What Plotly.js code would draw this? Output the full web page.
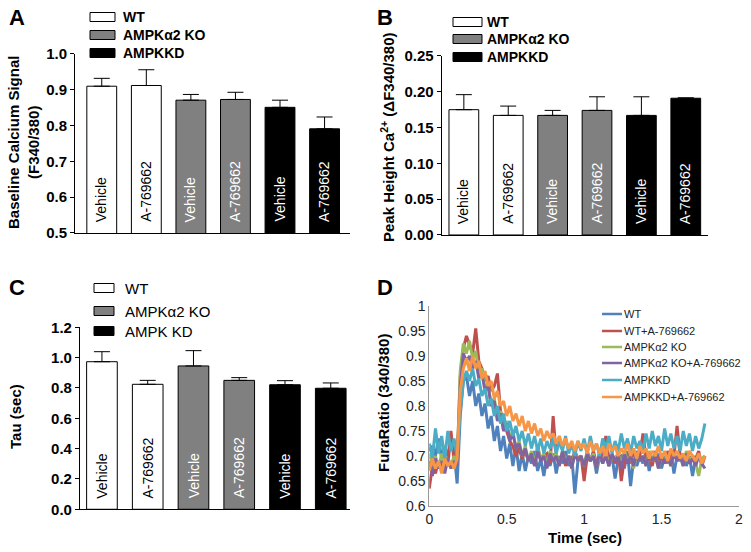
<!DOCTYPE html>
<html>
<head>
<meta charset="utf-8">
<script src="https://cdn.plot.ly/plotly-3.0.1.min.js"></script>
<style>html,body{margin:0;padding:0;background:#fff;}#chart{width:751px;height:552px;}</style>
</head>
<body>
<div id="chart"></div>
<script>
// ---------- DATA ----------
const barCategories = ['WT Vehicle', 'WT A-769662', 'KO Vehicle', 'KO A-769662', 'KD Vehicle', 'KD A-769662'];
const barLabels = ['Vehicle', 'A-769662', 'Vehicle', 'A-769662', 'Vehicle', 'A-769662'];
const barColors = ['#ffffff', '#ffffff', '#808080', '#808080', '#000000', '#000000'];
const barTextColors = ['#000000', '#000000', '#ffffff', '#ffffff', '#ffffff', '#ffffff'];

const baselineMean = [0.910, 0.912, 0.871, 0.873, 0.851, 0.791];
const baselineErr  = [0.022, 0.044, 0.016, 0.020, 0.020, 0.033];
const peakMean = [0.175, 0.167, 0.167, 0.174, 0.167, 0.191];
const peakErr  = [0.021, 0.013, 0.007, 0.019, 0.026, 0.0005];
const tauMean = [0.973, 0.824, 0.945, 0.850, 0.821, 0.798];
const tauErr  = [0.066, 0.026, 0.101, 0.018, 0.027, 0.035];

const legendAB = ['WT', 'AMPKα2 KO', 'AMPKKD'];
const legendC = ['WT', 'AMPKα2 KO', 'AMPK KD'];
const legendColors = ['#ffffff', '#808080', '#000000'];

const timeSec = [0,0.02,0.04,0.06,0.08,0.1,0.12,0.14,0.16,0.18,
  0.2,0.22,0.24,0.26,0.28,0.3,0.32,0.34,0.36,0.38,
  0.4,0.42,0.44,0.46,0.48,0.5,0.52,0.54,0.56,0.58,
  0.6,0.62,0.64,0.66,0.68,0.7,0.72,0.74,0.76,0.78,
  0.8,0.82,0.84,0.86,0.88,0.9,0.92,0.94,0.96,0.98,
  1,1.02,1.04,1.06,1.08,1.1,1.12,1.14,1.16,1.18,
  1.2,1.22,1.24,1.26,1.28,1.3,1.32,1.34,1.36,1.38,
  1.4,1.42,1.44,1.46,1.48,1.5,1.52,1.54,1.56,1.58,
  1.6,1.62,1.64,1.66,1.68,1.7,1.72,1.74,1.76,1.78];

const traceNames = ['WT', 'WT+A-769662', 'AMPKα2 KO', 'AMPKα2 KO+A-769662', 'AMPKKD', 'AMPKKD+A-769662'];
const traceColors = ['#4F81BD', '#C0504D', '#9BBB59', '#8064A2', '#4BACC6', '#F79646'];

const furaWT = [0.71,0.72,0.70,0.735,0.695,0.72,0.70,0.73,0.71,0.645,
  0.78,0.85,0.86,0.82,0.85,0.80,0.825,0.78,0.805,0.755,
  0.78,0.73,0.76,0.71,0.74,0.695,0.725,0.68,0.72,0.67,
  0.705,0.67,0.70,0.685,0.71,0.67,0.695,0.66,0.70,0.68,
  0.705,0.665,0.70,0.685,0.71,0.68,0.70,0.625,0.69,0.70,
  0.675,0.71,0.69,0.70,0.665,0.70,0.685,0.71,0.68,0.70,
  0.655,0.695,0.70,0.675,0.71,0.64,0.695,0.68,0.70,0.685,
  0.71,0.67,0.70,0.69,0.705,0.675,0.70,0.685,0.71,0.665,
  0.70,0.69,0.705,0.68,0.70,0.66,0.695,0.70,0.685,0.70];
const furaWTA = [0.635,0.68,0.665,0.69,0.67,0.70,0.68,0.75,0.69,0.685,
  0.86,0.915,0.94,0.92,0.905,0.955,0.89,0.875,0.85,0.86,
  0.83,0.84,0.865,0.79,0.77,0.745,0.73,0.72,0.70,0.715,
  0.695,0.71,0.69,0.705,0.68,0.72,0.69,0.70,0.705,0.685,
  0.78,0.70,0.69,0.705,0.68,0.70,0.69,0.71,0.695,0.70,
  0.65,0.70,0.69,0.71,0.685,0.70,0.69,0.74,0.695,0.70,
  0.685,0.71,0.65,0.695,0.70,0.685,0.71,0.69,0.70,0.745,
  0.695,0.70,0.68,0.71,0.69,0.70,0.685,0.71,0.695,0.70,
  0.76,0.70,0.69,0.705,0.685,0.70,0.695,0.71,0.68,0.70];
const furaKO = [0.705,0.68,0.70,0.675,0.705,0.685,0.695,0.68,0.70,0.685,
  0.87,0.925,0.905,0.93,0.895,0.91,0.865,0.875,0.835,0.845,
  0.80,0.815,0.775,0.79,0.75,0.77,0.735,0.75,0.715,0.73,
  0.70,0.72,0.69,0.71,0.685,0.715,0.695,0.705,0.68,0.71,
  0.695,0.705,0.68,0.71,0.69,0.70,0.675,0.71,0.69,0.70,
  0.68,0.71,0.69,0.705,0.675,0.70,0.69,0.71,0.68,0.70,
  0.695,0.705,0.68,0.71,0.69,0.70,0.675,0.705,0.69,0.70,
  0.68,0.71,0.69,0.70,0.675,0.705,0.69,0.70,0.68,0.705,
  0.69,0.70,0.68,0.71,0.69,0.70,0.685,0.66,0.695,0.70];
const furaKOA = [0.69,0.66,0.695,0.675,0.69,0.665,0.695,0.675,0.69,0.68,
  0.84,0.905,0.89,0.90,0.875,0.89,0.855,0.865,0.83,0.84,
  0.80,0.81,0.77,0.785,0.75,0.765,0.73,0.745,0.715,0.725,
  0.70,0.715,0.69,0.705,0.68,0.71,0.69,0.70,0.675,0.705,
  0.69,0.70,0.68,0.71,0.685,0.70,0.675,0.705,0.69,0.70,
  0.68,0.705,0.69,0.70,0.675,0.71,0.685,0.70,0.68,0.705,
  0.69,0.70,0.675,0.705,0.685,0.70,0.68,0.71,0.69,0.70,
  0.68,0.705,0.69,0.70,0.675,0.705,0.685,0.70,0.68,0.705,
  0.69,0.70,0.68,0.705,0.685,0.695,0.68,0.70,0.685,0.675];
const furaKD = [0.725,0.695,0.755,0.705,0.74,0.695,0.75,0.71,0.735,0.70,
  0.79,0.85,0.87,0.85,0.875,0.84,0.855,0.82,0.835,0.80,
  0.815,0.78,0.80,0.765,0.785,0.75,0.77,0.74,0.76,0.73,
  0.75,0.72,0.745,0.715,0.74,0.71,0.735,0.705,0.73,0.715,
  0.735,0.705,0.73,0.71,0.74,0.705,0.725,0.70,0.73,0.71,
  0.735,0.705,0.74,0.71,0.725,0.70,0.735,0.715,0.74,0.705,
  0.73,0.71,0.745,0.715,0.735,0.705,0.74,0.715,0.73,0.71,
  0.745,0.715,0.75,0.72,0.74,0.71,0.755,0.72,0.745,0.715,
  0.74,0.71,0.75,0.72,0.745,0.71,0.74,0.715,0.735,0.765];
const furaKDA = [0.67,0.695,0.675,0.69,0.665,0.695,0.68,0.69,0.675,0.695,
  0.83,0.875,0.895,0.87,0.90,0.875,0.89,0.855,0.87,0.84,
  0.85,0.815,0.83,0.80,0.81,0.78,0.80,0.77,0.785,0.76,
  0.78,0.75,0.77,0.745,0.765,0.74,0.755,0.73,0.75,0.735,
  0.745,0.725,0.74,0.72,0.735,0.715,0.73,0.71,0.73,0.715,
  0.725,0.705,0.73,0.71,0.725,0.705,0.72,0.70,0.725,0.71,
  0.72,0.70,0.715,0.705,0.725,0.70,0.715,0.695,0.72,0.705,
  0.715,0.695,0.71,0.70,0.72,0.695,0.71,0.69,0.715,0.70,
  0.71,0.695,0.705,0.69,0.71,0.70,0.69,0.705,0.685,0.70];
const furaSeries = [furaWT, furaWTA, furaKO, furaKOA, furaKD, furaKDA];

// ---------- HELPERS ----------
const W = 751, H = 552;
const FONT = 'Liberation Sans, Arial, Helvetica, sans-serif';
const px = v => v / W;
const py = v => 1 - v / H;

function barTrace(xa, ya, mean, err) {
  return {
    type: 'bar', x: barCategories, y: mean, xaxis: xa, yaxis: ya,
    width: 0.67, showlegend: false, hoverinfo: 'skip',
    marker: {color: barColors, line: {color: '#000', width: 1}},
    error_y: {type: 'data', symmetric: false, array: err, arrayminus: err.map(() => 0),
              color: '#000', thickness: 1, width: 8}
  };
}

const data = [
  barTrace('x', 'y', baselineMean, baselineErr),
  barTrace('x2', 'y2', peakMean, peakErr),
  barTrace('x3', 'y3', tauMean, tauErr)
];
furaSeries.forEach((s, i) => {
  data.push({type: 'scatter', mode: 'lines', x: timeSec, y: s, xaxis: 'x4', yaxis: 'y4',
    name: traceNames[i], line: {color: traceColors[i], width: 3}, showlegend: false, hoverinfo: 'skip'});
});

const barX = (dom, range, anchor) => ({domain: dom, range: range, anchor: anchor, type: 'category',
  showticklabels: false, ticks: '', showline: true, linecolor: '#000', linewidth: 1,
  showgrid: false, zeroline: false, fixedrange: true});
const barY = (dom, range, dtick, fmt, anchor) => ({domain: dom, range: range, anchor: anchor,
  dtick: dtick, tick0: 0, tickformat: fmt, ticks: 'outside', ticklen: 4, tickwidth: 1, tickcolor: '#000',
  showline: true, linecolor: '#000', linewidth: 1, showgrid: false, zeroline: false,
  tickfont: {family: FONT, size: 15, color: '#000', weight: 'bold'}, fixedrange: true});

const shapes = [];
const annotations = [];

// panel letters
[['A', 17, 17], ['B', 385, 17], ['C', 17, 287], ['D', 385, 287]].forEach(p => {
  annotations.push({text: p[0], xref: 'paper', yref: 'paper', x: px(p[1]), y: py(p[2]),
    xanchor: 'center', yanchor: 'middle', showarrow: false,
    font: {family: FONT, size: 22, color: '#000', weight: 'bold'}});
});

// bar legends
function barLegend(labels, bx0, bx1, rows, tx, fsize, bold) {
  labels.forEach((lab, i) => {
    const cy = rows[i];
    shapes.push({type: 'rect', xref: 'paper', yref: 'paper', x0: px(bx0), x1: px(bx1),
      y0: py(cy + 4.5), y1: py(cy - 4.5), fillcolor: legendColors[i], line: {color: '#000', width: 1}});
    annotations.push({text: lab, xref: 'paper', yref: 'paper', x: px(tx), y: py(cy),
      xanchor: 'left', yanchor: 'middle', showarrow: false,
      font: {family: FONT, size: fsize, color: '#000', weight: bold ? 'bold' : 'normal'}});
  });
}
barLegend(legendAB, 90, 115, [17, 35, 53], 121, 14, true);
barLegend(legendAB, 453, 482, [22, 39, 57], 485, 14, true);
barLegend(legendC, 94, 114, [288, 311, 331], 123, 15, false);

// bar labels inside bars
function barTexts(xa, ya, base) {
  barLabels.forEach((lab, i) => {
    annotations.push({text: lab, xref: xa, yref: ya, x: barCategories[i], y: base,
      xanchor: 'center', yanchor: 'bottom', yshift: 9, textangle: -90, showarrow: false,
      font: {family: FONT, size: 14, color: barTextColors[i]}});
  });
}
barTexts('x', 'y', 0.5);
barTexts('x2', 'y2', 0);
barTexts('x3', 'y3', 0);

// y titles
annotations.push({text: 'Baseline Calcium Signal<br>(F340/380)', xref: 'paper', yref: 'paper',
  x: px(24), y: py(143), xanchor: 'center', yanchor: 'middle', textangle: -90, showarrow: false,
  font: {family: FONT, size: 15, color: '#000', weight: 'bold'}});
annotations.push({text: 'Peak Height Ca<sup>2+</sup> (ΔF340/380)', xref: 'paper', yref: 'paper',
  x: px(387), y: py(137), xanchor: 'center', yanchor: 'middle', textangle: -90, showarrow: false,
  font: {family: FONT, size: 15, color: '#000', weight: 'bold'}});
annotations.push({text: 'Tau (sec)', xref: 'paper', yref: 'paper',
  x: px(15), y: py(417), xanchor: 'center', yanchor: 'middle', textangle: -90, showarrow: false,
  font: {family: FONT, size: 15, color: '#000', weight: 'bold'}});
annotations.push({text: 'FuraRatio (340/380)', xref: 'paper', yref: 'paper',
  x: px(383), y: py(403), xanchor: 'center', yanchor: 'middle', textangle: -90, showarrow: false,
  font: {family: FONT, size: 15, color: '#000', weight: 'bold'}});
annotations.push({text: 'Time (sec)', xref: 'paper', yref: 'paper',
  x: px(585), y: py(537), xanchor: 'center', yanchor: 'middle', showarrow: false,
  font: {family: FONT, size: 15, color: '#000', weight: 'bold'}});

// D legend
const legRows = [314, 331, 347, 363, 380, 397];
traceNames.forEach((n, i) => {
  shapes.push({type: 'line', xref: 'paper', yref: 'paper', x0: px(602), x1: px(622),
    y0: py(legRows[i]), y1: py(legRows[i]), line: {color: traceColors[i], width: 2.5}});
  annotations.push({text: n, xref: 'paper', yref: 'paper', x: px(622), y: py(legRows[i]),
    xanchor: 'left', yanchor: 'middle', showarrow: false,
    font: {family: FONT, size: 11, color: '#222'}});
});

const layout = {
  width: W, height: H, margin: {l: 0, r: 0, t: 0, b: 0},
  paper_bgcolor: '#fff', plot_bgcolor: 'rgba(0,0,0,0)', showlegend: false,
  bargap: 0.33,
  xaxis: barX([0.0999, 0.466], [-0.6, 5.57], 'y'),
  yaxis: barY([0.5779, 0.9022], [0.5, 1.0], 0.1, '.1f', 'x'),
  xaxis2: barX([0.5881, 0.9427], [-0.5, 5.5], 'y2'),
  yaxis2: barY([0.5743, 0.8986], [0, 0.25], 0.05, '.2f', 'x2'),
  xaxis3: barX([0.1065, 0.466], [-0.48, 5.42], 'y3'),
  yaxis3: barY([0.0774, 0.4071], [0, 1.2], 0.2, '.1f', 'x3'),
  xaxis4: {domain: [0.5716, 0.984], range: [0, 2], anchor: 'y4', dtick: 0.5, tick0: 0,
    showline: true, linecolor: '#999', linewidth: 1, ticks: '', showgrid: false, zeroline: false,
    tickfont: {family: FONT, size: 14, color: '#222'}, fixedrange: true},
  yaxis4: {domain: [0.0833, 0.4457], range: [0.6, 1], anchor: 'x4', dtick: 0.05, tick0: 0,
    showline: true, linecolor: '#999', linewidth: 1, ticks: '', showgrid: false, zeroline: false,
    tickfont: {family: FONT, size: 14, color: '#222'}, fixedrange: true},
  shapes: shapes,
  annotations: annotations
};

Plotly.newPlot('chart', data, layout, {staticPlot: true, displayModeBar: false});
</script>
</body>
</html>
